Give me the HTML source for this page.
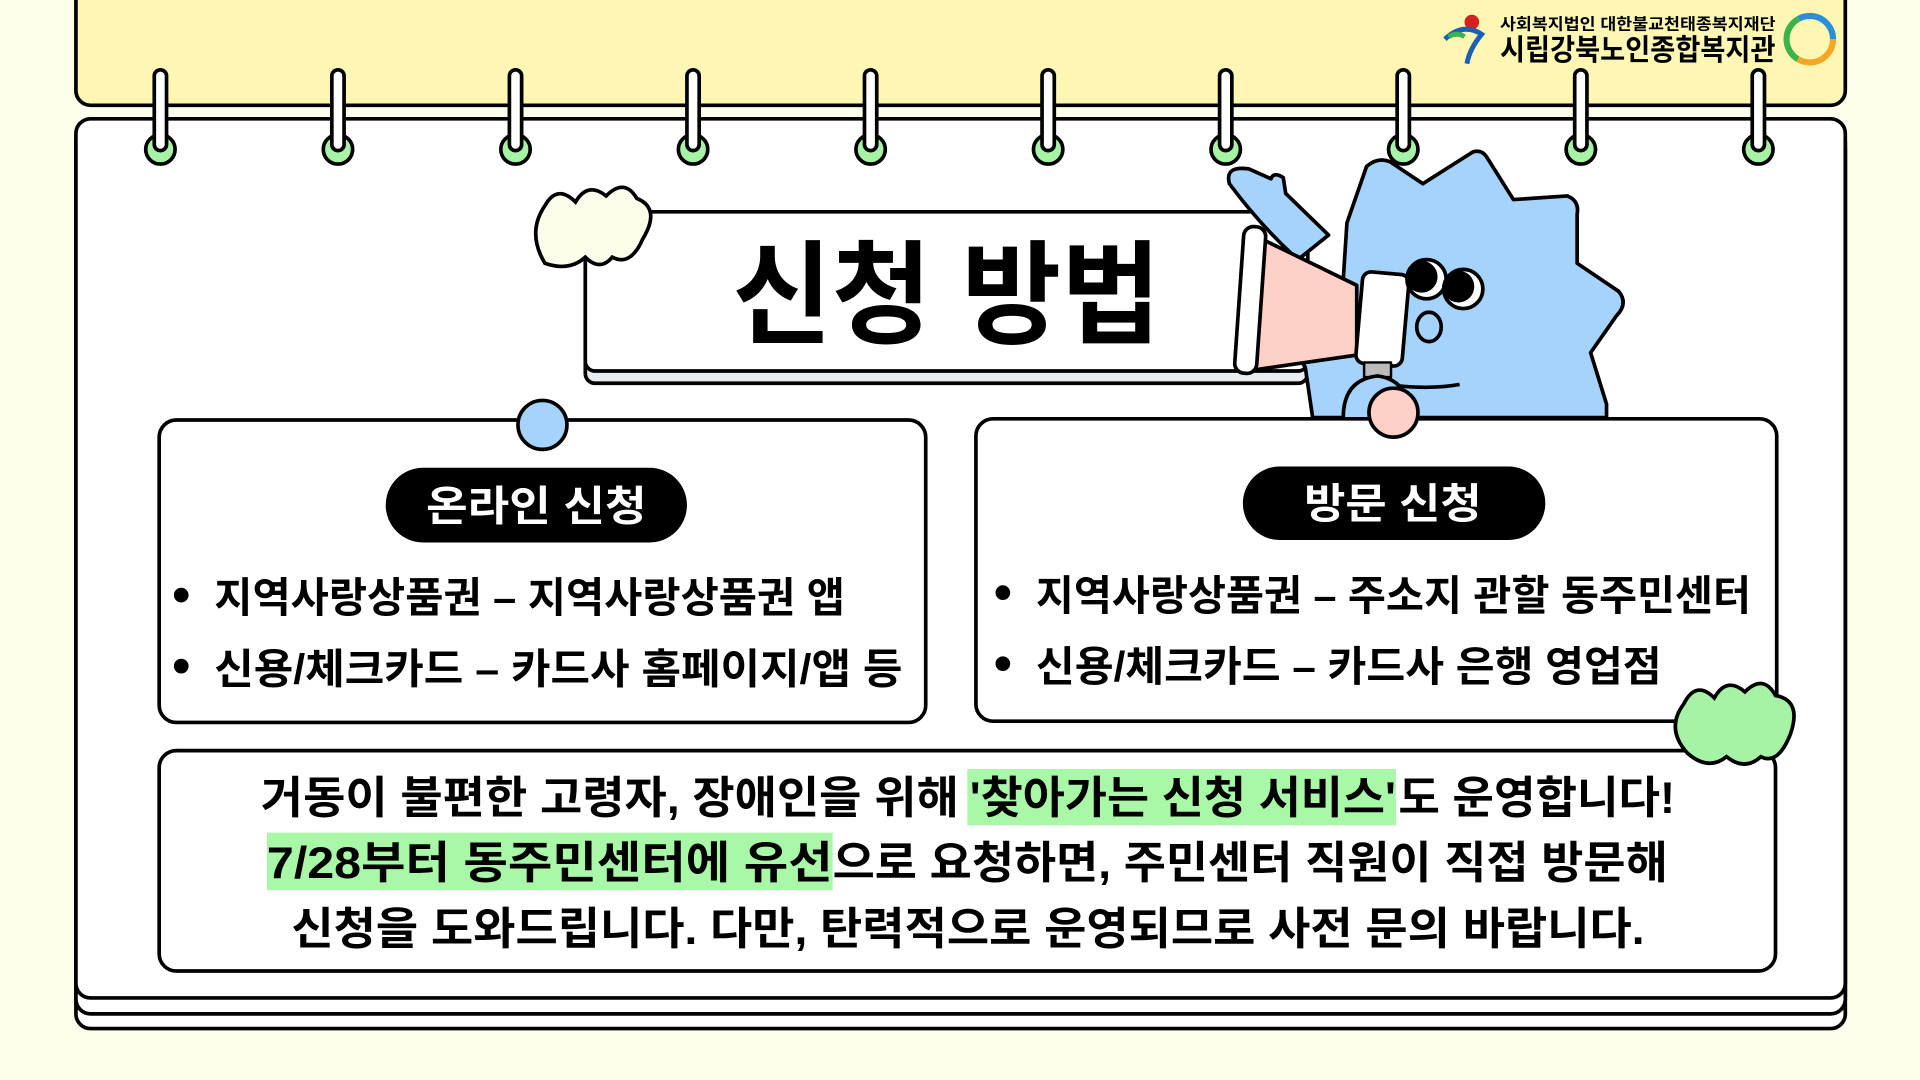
<!DOCTYPE html>
<html><head><meta charset="utf-8"><style>
html,body{margin:0;padding:0;background:#fdfeec;width:1920px;height:1080px;overflow:hidden}
svg{display:block}
text{font-family:"Liberation Sans","Noto Sans CJK KR",sans-serif;font-weight:700}
</style></head><body>
<svg width="1920" height="1080" viewBox="0 0 1568 882" xmlns="http://www.w3.org/2000/svg">
<rect width="1568" height="882" fill="#fdfeec"/>
<!-- top yellow panel -->
<rect x="62" y="-20" width="1445" height="106" rx="12" fill="#fdf7b3" stroke="#000" stroke-width="3"/>
<!-- stacked card layers -->
<rect x="62" y="110" width="1445" height="730" rx="12" fill="#fff" stroke="#000" stroke-width="3"/>
<rect x="62" y="104" width="1445" height="724" rx="12" fill="#fff" stroke="#000" stroke-width="3"/>
<rect x="62" y="97" width="1445" height="718" rx="12" fill="#fff" stroke="#000" stroke-width="3"/>
<!-- rings -->
<g stroke="#000" stroke-width="3">
<g id="ring"><circle cx="131" cy="122" r="12" fill="#a6f3a6"/><rect x="126" y="57" width="10" height="66" rx="5" fill="#fff"/></g>
<use href="#ring" x="145"/><use href="#ring" x="290"/><use href="#ring" x="435"/><use href="#ring" x="580"/>
<use href="#ring" x="725"/><use href="#ring" x="870"/><use href="#ring" x="1015"/><use href="#ring" x="1160"/><use href="#ring" x="1305"/>
</g>
<!-- logo -->
<circle cx="1202" cy="18" r="6" fill="#d62020"/>
<path d="M1180 32 Q1195 18 1210 28 Q1200 40 1198 52" fill="none" stroke="#1a5fb4" stroke-width="4"/>
<path d="M1183 30 Q1190 26 1196 30" fill="none" stroke="#3bb34a" stroke-width="4"/>
<text x="1225" y="24" font-size="13" textLength="225" lengthAdjust="spacingAndGlyphs">사회복지법인 대한불교천태종복지재단</text>
<text x="1225" y="49" font-size="24" textLength="225" lengthAdjust="spacingAndGlyphs">시립강북노인종합복지관</text>
<circle cx="1478" cy="32" r="19" fill="none" stroke="#f5a623" stroke-width="5" stroke-dasharray="40 80"/>
<circle cx="1478" cy="32" r="19" fill="none" stroke="#3bb34a" stroke-width="5" stroke-dasharray="0 40 40 40"/>
<circle cx="1478" cy="32" r="19" fill="none" stroke="#2a8fd8" stroke-width="5" stroke-dasharray="0 80 40 0"/>
<!-- title box -->
<rect x="478" y="185" width="590" height="128" rx="8" fill="#e8edf0" stroke="#000" stroke-width="3"/>
<rect x="478" y="173" width="590" height="130" rx="8" fill="#fff" stroke="#000" stroke-width="3"/>
<text x="598" y="273" font-size="92" textLength="350" lengthAdjust="spacingAndGlyphs">신청 방법</text>
<!-- pale cloud -->
<path d="M445 215 Q430 190 445 168 Q455 150 470 165 Q480 148 495 160 Q510 145 520 162 Q540 170 525 195 Q515 218 500 210 Q490 222 478 210 Q465 222 445 215Z" fill="#fbfdea" stroke="#000" stroke-width="3"/>
<!-- mascot -->
<g stroke="#000" stroke-width="3" stroke-linejoin="round">
<path d="M1004 150 Q1000 135 1020 138 L1038 146 Q1040 140 1048 145 L1050 158 L1085 192 L1060 212 Q1030 185 1004 150Z" fill="#a6d3fb"/>
<path d="M1072 341 L1066 300 L1040 262 L1060 240 L1097 228 L1100 182 L1116 136 Q1125 128 1135 132 L1162 150 L1203 124 Q1210 122 1214 128 L1236 163 L1280 160 Q1290 164 1288 175 L1288 215 L1322 238 Q1330 248 1320 258 L1299 288 L1312 330 L1312 341Z" fill="#a6d3fb"/>
<path d="M1030 195 L1108 233 L1108 290 L1025 302Z" fill="#ffd0c8"/>
<rect x="1012" y="185" width="18" height="120" rx="8" fill="#fff" transform="rotate(4 1021 245)"/>
<rect x="1110" y="223" width="38" height="75" rx="7" fill="#fff" transform="rotate(5 1129 260)"/>
<rect x="1114" y="296" width="22" height="12" fill="#bbb" stroke-width="2"/>
<circle cx="1165" cy="228" r="16" fill="#fff"/><circle cx="1161" cy="226" r="13" fill="#000" stroke="none"/>
<circle cx="1195" cy="236" r="16" fill="#fff"/><circle cx="1191" cy="234" r="13" fill="#000" stroke="none"/>
<ellipse cx="1167" cy="267" rx="10" ry="12" fill="none"/>
<path d="M1140 315 Q1170 318 1192 314" fill="none"/>
<path d="M1097 341 Q1097 310 1125 307 Q1150 310 1152 341" fill="#a6d3fb"/>
</g>
<!-- left card -->
<rect x="130" y="343" width="626" height="247" rx="14" fill="#fff" stroke="#000" stroke-width="3"/>
<circle cx="443" cy="347" r="20" fill="#a6d3fb" stroke="#000" stroke-width="3"/>
<rect x="315" y="382" width="246" height="61" rx="30.5" fill="#000"/>
<text x="348" y="425" font-size="34" fill="#fff" textLength="180" lengthAdjust="spacingAndGlyphs">온라인 신청</text>
<circle cx="148" cy="486" r="6" fill="#000"/><circle cx="148" cy="544" r="6" fill="#000"/>
<text x="175" y="500" font-size="34" textLength="515" lengthAdjust="spacingAndGlyphs">지역사랑상품권 – 지역사랑상품권 앱</text>
<text x="175" y="558" font-size="34" textLength="562" lengthAdjust="spacingAndGlyphs">신용/체크카드 – 카드사 홈페이지/앱 등</text>
<!-- right card -->
<rect x="797" y="342" width="654" height="247" rx="14" fill="#fff" stroke="#000" stroke-width="3"/>
<circle cx="1138" cy="337" r="20" fill="#ffd0c8" stroke="#000" stroke-width="3"/>
<rect x="1015" y="381" width="247" height="60" rx="30" fill="#000"/>
<text x="1065" y="423" font-size="34" fill="#fff" textLength="145" lengthAdjust="spacingAndGlyphs">방문 신청</text>
<circle cx="819" cy="484" r="6" fill="#000"/><circle cx="819" cy="542" r="6" fill="#000"/>
<text x="846" y="498" font-size="34" textLength="584" lengthAdjust="spacingAndGlyphs">지역사랑상품권 – 주소지 관할 동주민센터</text>
<text x="846" y="556" font-size="34" textLength="511" lengthAdjust="spacingAndGlyphs">신용/체크카드 – 카드사 은행 영업점</text>
<!-- bottom card -->
<rect x="130" y="613" width="1320" height="180" rx="14" fill="#fff" stroke="#000" stroke-width="3"/>
<rect x="790" y="628" width="350" height="46" fill="#a8f8a8"/>
<rect x="218" y="680" width="462" height="47" fill="#a8f8a8"/>
<text x="213" y="664" font-size="36" textLength="570" lengthAdjust="spacingAndGlyphs">거동이 불편한 고령자, 장애인을 위해</text>
<text x="792" y="664" font-size="36" textLength="348" lengthAdjust="spacingAndGlyphs">'찾아가는 신청 서비스'</text>
<text x="1142" y="664" font-size="36" textLength="226" lengthAdjust="spacingAndGlyphs">도 운영합니다!</text>
<text x="218" y="717" font-size="36" textLength="462" lengthAdjust="spacingAndGlyphs">7/28부터 동주민센터에 유선</text>
<text x="680" y="717" font-size="36" textLength="682" lengthAdjust="spacingAndGlyphs">으로 요청하면, 주민센터 직원이 직접 방문해</text>
<text x="238" y="771" font-size="36" textLength="1105" lengthAdjust="spacingAndGlyphs">신청을 도와드립니다. 다만, 탄력적으로 운영되므로 사전 문의 바랍니다.</text>
<!-- green cloud -->
<path d="M1378 615 Q1360 595 1375 575 Q1385 555 1400 570 Q1410 552 1425 565 Q1440 550 1450 568 Q1472 572 1462 600 Q1452 625 1438 618 Q1425 630 1410 618 Q1395 630 1378 615Z" fill="#a6f3a6" stroke="#000" stroke-width="3"/>
</svg>
</body></html>
